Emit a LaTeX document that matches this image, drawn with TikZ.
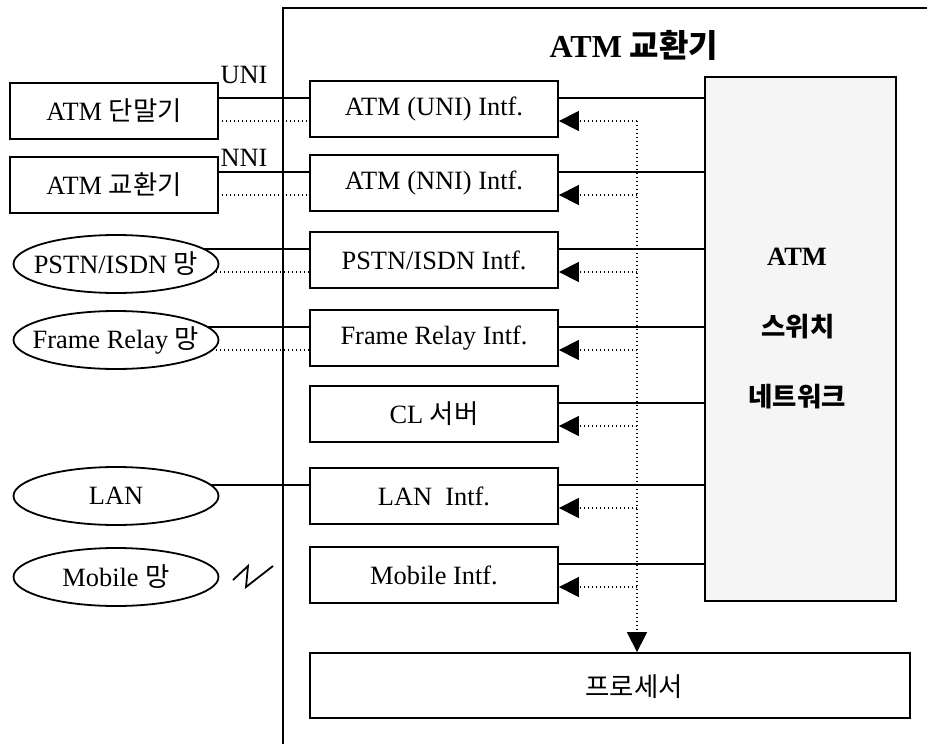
\documentclass[tikz,border=0pt]{standalone}
\usepackage{fontspec}
\setmainfont{Liberation Serif}
\newfontfamily\kr{Noto Sans CJK KR}
\usetikzlibrary{shapes.geometric,arrows.meta,backgrounds}
\begin{document}
\begin{tikzpicture}[x=0.5pt,y=-0.5pt,
  every node/.style={font=\fontsize{13.2}{16}\selectfont},
  lbox/.style={draw,line width=0.9pt,fill=white,minimum width=104pt,minimum height=28pt,inner sep=0pt},
  ibox/.style={draw,line width=0.9pt,fill=white,minimum width=124pt,minimum height=28pt,inner sep=0pt},
  net/.style={draw,line width=0.9pt,fill=white,ellipse,minimum width=102.5pt,minimum height=29pt,inner sep=0pt},
  sline/.style={line width=0.8pt},
  dline/.style={line width=0.7pt,dash pattern=on 0.7pt off 1.3pt},
  tipl/.style={-{Triangle[length=10pt,width=10pt]}}
]
\useasboundingbox (0,0) rectangle (927,744);
% frame
\draw[line width=0.9pt] (283,744) -- (283,8) -- (927,8);
\node[font=\fontsize{16}{19}\selectfont\bfseries] (title) at (634,45) {ATM {\kr 교환기}};
% left devices
\node[lbox] (l1) at (114,111) {ATM {\kr 단말기}};
\node[lbox] (l2) at (114,185) {ATM {\kr 교환기}};
\node[net,label={center:PSTN/ISDN {\kr 망}}] (l3) at (116,264) {};
\node[net,label={center:Frame Relay {\kr 망}}] (l4) at (116,340) {};
\node[net,label={center:LAN}] (l6) at (116,496) {};
\node[net,label={center:Mobile {\kr 망}}] (l7) at (116,577) {};
\node (uni) at (244,75) {UNI};
\node (nni) at (244,158) {NNI};
% interfaces
\node[ibox] (i1) at (434,109) {ATM (UNI) Intf.};
\node[ibox] (i2) at (434,183) {ATM (NNI) Intf.};
\node[ibox] (i3) at (434,260) {PSTN/ISDN Intf.};
\node[ibox] (i4) at (434,338) {Frame Relay Intf.};
\node[ibox] (i5) at (434,414) {CL {\kr 서버}};
\node[ibox] (i6) at (434,496) {LAN\ \ Intf.};
\node[ibox] (i7) at (434,575) {Mobile Intf.};
% switch
\node[draw,line width=0.9pt,fill=black!4,minimum width=95.5pt,minimum height=262pt,inner sep=0pt] (sw) at (800.5,339) {};
\node[font=\fontsize{13.2}{16}\selectfont\bfseries] (swa) at (797,257) {ATM};
\node[font=\fontsize{13.2}{16}\selectfont\kr\bfseries] (swb) at (798,327) {스위치};
\node[font=\fontsize{13.2}{16}\selectfont\kr\bfseries] (swc) at (797,397) {네트워크};
% processor
\node[draw,line width=0.9pt,minimum width=300pt,minimum height=32.5pt,inner sep=0pt] (proc) at (610,685.5) {};
\node (proct) at (634,687) {\kr 프로세서};
\coordinate (bus) at (637,0);
\foreach \k in {1,...,7}{
  \coordinate (s\k) at ([yshift=5.5pt]i\k.west);
  \coordinate (d\k) at ([yshift=-6pt]i\k.west);
  \coordinate (r\k) at ([yshift=5.5pt]i\k.east);
  \coordinate (a\k) at ([yshift=-6pt]i\k.east);
  \draw[sline] (r\k) -- (r\k -| sw.west);
  \draw[dline,tipl] (a\k -| bus) -- (a\k);
}
\coordinate (bt) at (a1 -| bus);
\draw[dline,tipl] (bt) -- (bt |- proc.north);
\begin{scope}[on background layer]
\foreach \k in {1,2,3,4}{
  \draw[sline] (s\k -| l\k.center) -- (s\k);
  \draw[dline] (d\k -| l\k.center) -- (d\k);
}
\draw[sline] (s6 -| l6.center) -- (s6);
\end{scope}
% wireless symbol
\draw[line width=0.9pt] (233,580) -- (248,566) -- (246,587) -- (273,566);
\end{tikzpicture}
\end{document}
